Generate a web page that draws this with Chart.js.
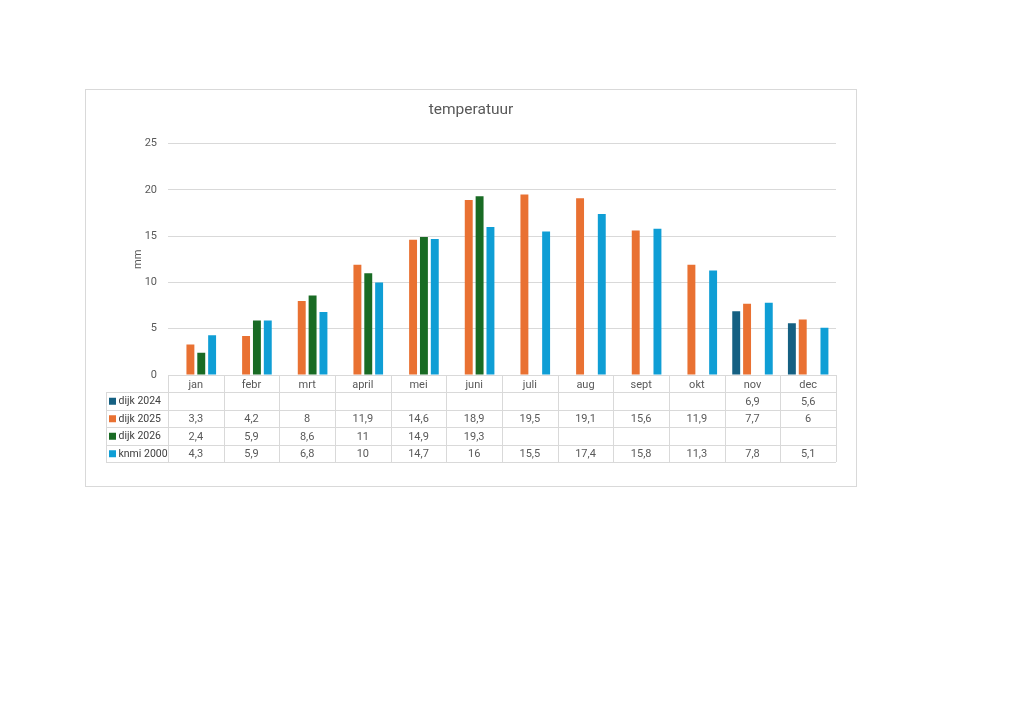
<!DOCTYPE html>
<html lang="nl">
<head>
<meta charset="UTF-8" />
<title>temperatuur</title>
<script src="https://cdn.jsdelivr.net/npm/chart.js"></script>
<style>
    body {
        margin: 0;
        background: #ffffff;
    }

    .chart-box {
        position: absolute;
        left: 85px;
        top: 89px;
        width: 772px;
        height: 398px;
        border: 1px solid #d9d9d9;
        box-sizing: border-box;
    }

    .chart-inner {
        position: absolute;
        inset: 0;
    }
</style>
</head>
<body>
<div class="chart-box">
    <div class="chart-inner">
        <canvas id="tempChart"></canvas>
    </div>
</div>

<script>
    // ===== data =====
    const maanden = ['jan', 'febr', 'mrt', 'april', 'mei', 'juni', 'juli', 'aug', 'sept', 'okt', 'nov', 'dec'];
    const dijk2024 = [null, null, null, null, null, null, null, null, null, null, 6.9, 5.6];
    const dijk2025 = [3.3, 4.2, 8, 11.9, 14.6, 18.9, 19.5, 19.1, 15.6, 11.9, 7.7, 6];
    const dijk2026 = [2.4, 5.9, 8.6, 11, 14.9, 19.3, null, null, null, null, null, null];
    const knmi2000 = [4.3, 5.9, 6.8, 10, 14.7, 16, 15.5, 17.4, 15.8, 11.3, 7.8, 5.1];
    const yTicks = [0, 5, 10, 15, 20, 25];

    const series = [
        { label: 'dijk 2024', data: dijk2024, color: '#156082' },
        { label: 'dijk 2025', data: dijk2025, color: '#E97132' },
        { label: 'dijk 2026', data: dijk2026, color: '#196B24' },
        { label: 'knmi 2000', data: knmi2000, color: '#0F9ED5' }
    ];

    const fontFam = 'Roboto, "Noto Sans", sans-serif';
    const lijnKleur = '#d9d9d9';

    // data table under the plot (Excel style)
    const dataTable = {
        id: 'dataTable',
        afterDraw(chart) {
            const ctx = chart.ctx;
            const area = chart.chartArea;
            const x = chart.scales.x;
            const colW = (area.right - area.left) / maanden.length;
            const headH = 17;
            const rowH = 17.5;
            const labelLeft = 20;
            const top = area.bottom;
            const bodyTop = top + headH;
            const bottom = bodyTop + rowH * series.length;

            ctx.save();
            ctx.strokeStyle = lijnKleur;
            ctx.lineWidth = 1;

            // horizontal lines
            ctx.beginPath();
            for (let r = 0; r <= series.length; r++) {
                const y = Math.round(bodyTop + r * rowH) + 0.5;
                ctx.moveTo(labelLeft, y);
                ctx.lineTo(area.right, y);
            }
            // vertical lines
            for (let c = 0; c <= maanden.length; c++) {
                const xx = Math.round(area.left + c * colW) + 0.5;
                ctx.moveTo(xx, top);
                ctx.lineTo(xx, bottom);
            }
            ctx.moveTo(labelLeft + 0.5, bodyTop);
            ctx.lineTo(labelLeft + 0.5, bottom);
            ctx.stroke();

            ctx.textBaseline = 'middle';

            // month header
            ctx.font = '11px ' + fontFam;
            ctx.fillStyle = '#595959';
            ctx.textAlign = 'center';
            maanden.forEach((m, i) => {
                ctx.fillText(m, x.getPixelForValue(i), top + headH / 2 + 1.5);
            });

            // rows
            series.forEach((s, r) => {
                const cy = bodyTop + r * rowH + rowH / 2 + 1;
                ctx.fillStyle = s.color;
                ctx.fillRect(labelLeft + 3, cy - 4, 7, 7);
                ctx.font = '10.5px ' + fontFam;
                ctx.fillStyle = '#404040';
                ctx.textAlign = 'left';
                ctx.fillText(s.label, labelLeft + 12.5, cy);

                ctx.font = '11px ' + fontFam;
                ctx.fillStyle = '#595959';
                ctx.textAlign = 'center';
                s.data.forEach((v, i) => {
                    if (v === null) return;
                    ctx.fillText(String(v).replace('.', ','), x.getPixelForValue(i), cy);
                });
            });
            ctx.restore();
        }
    };

    new Chart(document.getElementById('tempChart'), {
        type: 'bar',
        data: {
            labels: maanden,
            datasets: series.map(s => ({
                label: s.label,
                data: s.data,
                backgroundColor: s.color,
                categoryPercentage: 0.78,
                barPercentage: 0.73
            }))
        },
        options: {
            responsive: true,
            maintainAspectRatio: false,
            animation: false,
            layout: {
                padding: 0
            },
            plugins: {
                legend: { display: false },
                tooltip: { enabled: false },
                title: {
                    display: true,
                    text: 'temperatuur',
                    color: '#595959',
                    font: { family: fontFam, size: 15.5, weight: 'normal' },
                    padding: { top: 11, bottom: 24 }
                }
            },
            scales: {
                x: {
                    ticks: { display: false },
                    grid: { display: false },
                    border: { color: lijnKleur },
                    afterFit(scale) { scale.height = 111; }
                },
                y: {
                    min: 0,
                    max: 25,
                    afterBuildTicks(scale) {
                        scale.ticks = yTicks.map(v => ({ value: v }));
                    },
                    ticks: {
                        color: '#595959',
                        padding: 11,
                        font: { family: fontFam, size: 11 }
                    },
                    grid: { color: lijnKleur, drawTicks: false },
                    border: { display: false },
                    title: {
                        display: true,
                        text: 'mm',
                        color: '#595959',
                        font: { family: fontFam, size: 11 },
                        padding: { top: 46, bottom: 0 }
                    },
                    afterFit(scale) { scale.width = 82; }
                },
                // empty right margin so the title centres on the whole box
                rechts: {
                    type: 'linear',
                    position: 'right',
                    min: 0,
                    max: 25,
                    ticks: { display: false },
                    grid: { display: false },
                    border: { display: false },
                    afterFit(scale) { scale.width = 20; }
                }
            }
        },
        plugins: [dataTable]
    });
</script>
</body>
</html>
